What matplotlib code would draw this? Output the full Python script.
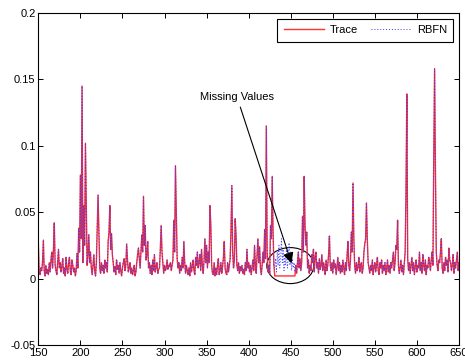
import numpy as np
import matplotlib.pyplot as plt
from matplotlib.patches import Ellipse

plt.rcParams['font.family'] = ['Liberation Sans', 'DejaVu Sans']
plt.rcParams['font.size'] = 8

# trace values in units of 1e-3, one sample per x from 150 to 650
trace_milli = [
    27, 5, 3, 8, 6, 12, 29, 6, 2, 10,
    4, 7, 3, 12, 5, 14, 20, 8, 22, 42,
    10, 6, 3, 12, 22, 8, 12, 5, 9, 15,
    4, 8, 2, 16, 7, 4, 12, 16, 6, 3,
    14, 10, 5, 8, 2, 6, 19, 8, 38, 20,
    78, 30, 145, 12, 55, 25, 102, 55, 10, 18,
    33, 12, 20, 8, 3, 10, 18, 6, 2, 12,
    37, 63, 35, 8, 4, 12, 6, 10, 4, 14,
    8, 12, 5, 28, 35, 55, 22, 34, 18, 12,
    5, 9, 3, 14, 7, 10, 4, 12, 6, 2,
    8, 12, 15, 6, 10, 26, 14, 5, 8, 12,
    4, 8, 3, 6, 10, 2, 5, 12, 18, 23,
    15, 8, 20, 33, 20, 62, 25, 40, 14, 18,
    28, 8, 12, 4, 10, 3, 14, 6, 18, 5,
    9, 12, 4, 7, 8, 22, 40, 20, 12, 4,
    10, 6, 8, 14, 7, 10, 9, 12, 6, 10,
    14, 44, 20, 85, 52, 15, 8, 12, 4, 10,
    6, 16, 8, 28, 12, 4, 10, 6, 3, 8,
    2, 12, 5, 9, 14, 6, 3, 16, 10, 20,
    8, 12, 18, 6, 22, 10, 4, 14, 30, 12,
    25, 8, 20, 12, 55, 41, 10, 4, 3, 12,
    2, 8, 3, 10, 15, 3, 6, 12, 4, 9,
    16, 28, 8, 4, 3, 12, 5, 10, 15, 36,
    70, 20, 8, 14, 45, 33, 10, 6, 12, 4,
    9, 6, 10, 4, 7, 3, 12, 6, 22, 8,
    12, 5, 10, 3, 8, 14, 6, 25, 10, 4,
    18, 30, 12, 24, 8, 3, 10, 20, 12, 37,
    15, 115, 20, 5, 10, 3, 40, 30, 77, 35,
    10, 2, 2, 2, 2, 2, 2, 2, 2, 2,
    2, 2, 2, 2, 2, 2, 2, 2, 2, 2,
    2, 2, 2, 2, 2, 2, 10, 4, 12, 20,
    8, 15, 6, 12, 47, 20, 77, 40, 25, 35,
    8, 14, 4, 10, 6, 18, 12, 22, 5, 16,
    20, 8, 12, 4, 15, 7, 10, 18, 6, 12,
    9, 3, 14, 6, 10, 18, 32, 10, 6, 12,
    4, 14, 8, 11, 3, 9, 16, 6, 12, 4,
    10, 5, 14, 8, 3, 12, 6, 18, 28, 10,
    6, 14, 35, 20, 72, 30, 10, 4, 12, 6,
    9, 16, 5, 10, 12, 4, 8, 20, 26, 30,
    57, 30, 12, 8, 4, 10, 6, 14, 3, 9,
    12, 5, 10, 16, 6, 3, 12, 8, 14, 4,
    10, 6, 12, 3, 8, 14, 5, 10, 4, 12,
    8, 14, 20, 6, 12, 25, 22, 44, 10, 4,
    8, 14, 5, 10, 3, 12, 20, 66, 139, 15,
    6, 12, 4, 10, 16, 6, 12, 3, 9, 14,
    5, 10, 8, 20, 6, 12, 4, 18, 10, 6,
    14, 3, 10, 8, 16, 12, 6, 14, 20, 10,
    92, 158, 80, 20, 10, 6, 14, 12, 20, 30,
    8, 4, 12, 6, 16, 10, 14, 5, 23, 14,
    12, 6, 10, 18, 4, 12, 8, 14, 20, 6,
    12,
]
x_start = 150

# RBFN estimates inside the missing-value gap (x = 431..455), 1e-3 units
gap_start = 431
rbfn_gap_milli = [8, 15, 5, 20, 10, 25, 8, 18, 30, 12, 22, 6, 16,
                  10, 24, 8, 14, 27, 10, 20, 6, 15, 8, 12, 5]

x = x_start + np.arange(len(trace_milli))
trace = np.array(trace_milli) / 1000.0
rbfn = trace.copy()
i0 = gap_start - x_start
rbfn[i0:i0 + len(rbfn_gap_milli)] = np.array(rbfn_gap_milli) / 1000.0

fig = plt.figure(figsize=(4.65, 3.64), dpi=100)
ax = fig.add_axes([0.0824, 0.0522, 0.9047, 0.912])

ax.plot(x, trace, color='#ff3030', lw=1, label='Trace')
ax.plot(x, rbfn, color='#3a3aff', lw=0.7, dashes=(1, 2), label='RBFN')

ax.set_xlim(150, 650)
ax.set_ylim(-0.05, 0.2)
ax.set_xticks(np.arange(150, 651, 50))
ax.set_yticks([-0.05, 0, 0.05, 0.1, 0.15, 0.2])
ax.set_yticklabels(['-0.05', '0', '0.05', '0.1', '0.15', '0.2'])
ax.tick_params(direction='in', top=True, right=True, length=3.5, width=0.7, pad=2)
for s in ax.spines.values():
    s.set_linewidth(0.8)

ax.add_patch(Ellipse((449.5, 0.0098), 55.8, 0.0271, fill=False, ec='k', lw=0.8))
ax.annotate('Missing Values', xy=(452, 0.0095), xytext=(386, 0.137),
            ha='center', va='center', fontsize=8,
            arrowprops=dict(arrowstyle='-|>', color='k', lw=0.8, mutation_scale=16))

leg = ax.legend(loc='upper right', ncol=2, fancybox=False, edgecolor='k',
                framealpha=1, handlelength=3.6, borderaxespad=0.5, borderpad=0.6,
                columnspacing=1.2, handletextpad=0.5)
leg.get_frame().set_linewidth(0.8)

fig.savefig('out.png', dpi=100)
